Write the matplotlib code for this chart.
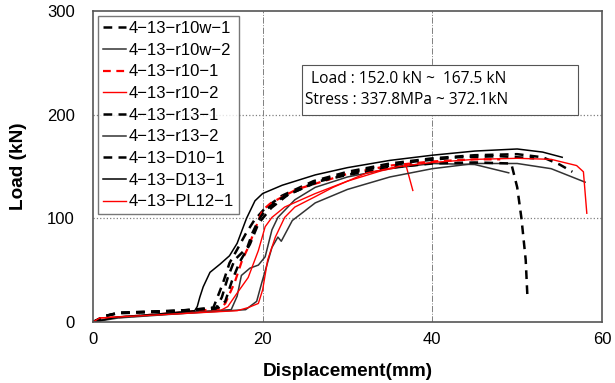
import matplotlib.pyplot as plt
from matplotlib.patches import Rectangle

plt.rcParams['font.family'] = ['Liberation Sans', 'DejaVu Sans']

# load-displacement curves (x: mm, y: kN)
r10w_1_x = [0, 1.5, 3, 8, 12, 14.2, 15.3, 16.1, 17, 18, 19, 20.3, 22.3, 26, 30, 35, 40, 45, 50, 53, 55, 56.5]
r10w_1_y = [0, 6, 8.5, 10, 12, 14, 37, 57, 70, 85, 98, 110, 122, 136, 145, 153, 158, 161, 162, 159, 152, 145]

r10w_2_x = [0, 2, 10, 16.3, 17, 17.5, 18.5, 19.5, 20.3, 21.1, 21.8, 23.8, 26.2, 30, 35, 40, 45, 49]
r10w_2_y = [0, 4, 9, 12, 25, 45, 52, 55, 63, 89, 101, 118, 130, 140, 148, 153, 152, 144]

r10_1_x = [0, 2, 10, 15, 15.6, 16.7, 17.6, 18.3, 19.5, 20, 21, 24, 30, 35, 40, 45, 48]
r10_1_y = [0, 4, 9, 13, 18, 38, 60, 72, 98, 108, 115, 128, 143, 151, 155, 157, 157]

r10_2_x = [0, 0.8, 3, 10, 15, 15.9, 17, 18.3, 19.5, 20.3, 21.1, 22.6, 26.2, 30, 34, 36.9, 37.7]
r10_2_y = [0, 4, 5, 8, 11, 15, 28, 43, 69, 92, 101, 111, 124, 136, 146, 151, 127]

r13_1_x = [0, 1.5, 3, 10, 14.8, 15.6, 16.4, 17.3, 18.5, 19.5, 21, 23, 27, 32, 38, 43, 48, 52]
r13_1_y = [0, 6, 9, 11, 14, 20, 40, 58, 75, 95, 110, 123, 137, 147, 155, 159, 160, 158]

r13_2_x = [0, 3, 10, 18, 19.3, 19.9, 21.1, 21.8, 22.2, 23.5, 26.2, 30, 35, 40, 45, 50, 54, 58]
r13_2_y = [0, 4, 8, 12, 20, 38, 72, 82, 78, 98, 115, 128, 140, 148, 153, 153, 148, 135]

d10_1_x = [0, 1.5, 3, 10, 14.5, 15.2, 15.9, 16.7, 18.2, 18.8, 19.5, 20.3, 22.3, 26.2, 30, 35, 40, 45, 49.3, 50, 50.5, 51, 51.2]
d10_1_y = [0, 6, 9, 11, 13, 24, 43, 60, 72, 86, 98, 108, 120, 135, 142, 149, 153, 154, 153, 130, 100, 60, 25]

d13_1_x = [0, 3, 8, 12, 12.3, 12.6, 13, 13.8, 15, 16.1, 17, 18.1, 19.1, 20, 22.3, 26.2, 30, 35, 40, 45, 50, 53, 55.3]
d13_1_y = [0, 5, 8, 11, 15, 24, 34, 48, 56, 64, 76, 100, 117, 124, 132, 142, 149, 156, 161, 165, 167, 164, 159]

pl12_1_x = [0, 0.8, 3, 10, 17, 18.3, 19.5, 20, 20.6, 21.5, 22.6, 23.8, 26.2, 28.3, 32.3, 36, 40, 45, 50, 54, 57, 57.8, 58, 58.2]
pl12_1_y = [0, 4, 5, 8, 11, 14, 18, 31, 60, 82, 101, 111, 121, 130, 144, 150, 154, 157, 158, 157, 151, 145, 125, 105]

labels = ["4\u221213\u2212r10w\u22121", "4\u221213\u2212r10w\u22122", "4\u221213\u2212r10\u22121",
          "4\u221213\u2212r10\u22122", "4\u221213\u2212r13\u22121", "4\u221213\u2212r13\u22122",
          "4\u221213\u2212D10\u22121", "4\u221213\u2212D13\u22121", "4\u221213\u2212PL12\u22121"]

xs = [r10w_1_x, r10w_2_x, r10_1_x, r10_2_x, r13_1_x, r13_2_x, d10_1_x, d13_1_x, pl12_1_x]
ys = [r10w_1_y, r10w_2_y, r10_1_y, r10_2_y, r13_1_y, r13_2_y, d10_1_y, d13_1_y, pl12_1_y]
colors = ['black', '#333333', 'red', 'red', 'black', '#333333', 'black', 'black', 'red']
styles = ['--', '-', '--', '-', '--', '-', '--', '-', '-']
widths = [1.8, 1.1, 1.6, 1.0, 1.8, 1.1, 1.8, 1.1, 1.0]

fig = plt.figure(figsize=(6.15, 3.83), dpi=100)
ax = fig.add_axes([0.151, 0.159, 0.828, 0.812])

for x, y, c, ls, lw, lab in zip(xs, ys, colors, styles, widths, labels):
    line, = ax.plot(x, y, color=c, linestyle=ls, linewidth=lw, label=lab)
    if ls == '--':
        line.set_dashes((3.5, 2.5))

ax.set_xlim(0, 60)
ax.set_ylim(0, 300)
ax.set_xticks([0, 20, 40, 60])
ax.set_yticks([0, 100, 200, 300])
for v in [20, 40]:
    ax.axvline(v, color='gray', linestyle='-.', linewidth=0.7, zorder=0)
for v in [100, 200]:
    ax.axhline(v, color='gray', linestyle=':', linewidth=0.9, zorder=0)
ax.tick_params(length=0, labelsize=12)
ax.tick_params(axis='x', pad=7)
ax.tick_params(axis='y', pad=13)
for s in ax.spines.values():
    s.set_color('#555555')
    s.set_linewidth(1.2)

ax.set_xlabel("Displacement(mm)", fontsize=13.7, fontweight='bold', labelpad=12)
ax.set_ylabel("Load (kN)", fontsize=13.7, fontweight='bold', labelpad=14)

leg = ax.legend(loc='upper left', fontsize=12, handlelength=1.4, handletextpad=0.15,
                labelspacing=0.4, borderaxespad=0.3, borderpad=0.3, fancybox=False)
leg.get_frame().set_edgecolor('#555555')
leg.get_frame().set_linewidth(1.0)

ax.add_patch(Rectangle((0.411, 0.666), 0.542, 0.16, transform=ax.transAxes,
                       facecolor='white', edgecolor='#555555', linewidth=0.8, zorder=5))
ax.text(0.428, 0.781, "Load : 152.0 kN ~  167.5 kN", transform=ax.transAxes, fontsize=11.2,
        va='center', family=['Open Sans', 'DejaVu Sans'], zorder=6)
ax.text(0.417, 0.714, "Stress : 337.8MPa ~ 372.1kN", transform=ax.transAxes, fontsize=11.2,
        va='center', family=['Open Sans', 'DejaVu Sans'], zorder=6)

fig.savefig("out.png", dpi=100)
